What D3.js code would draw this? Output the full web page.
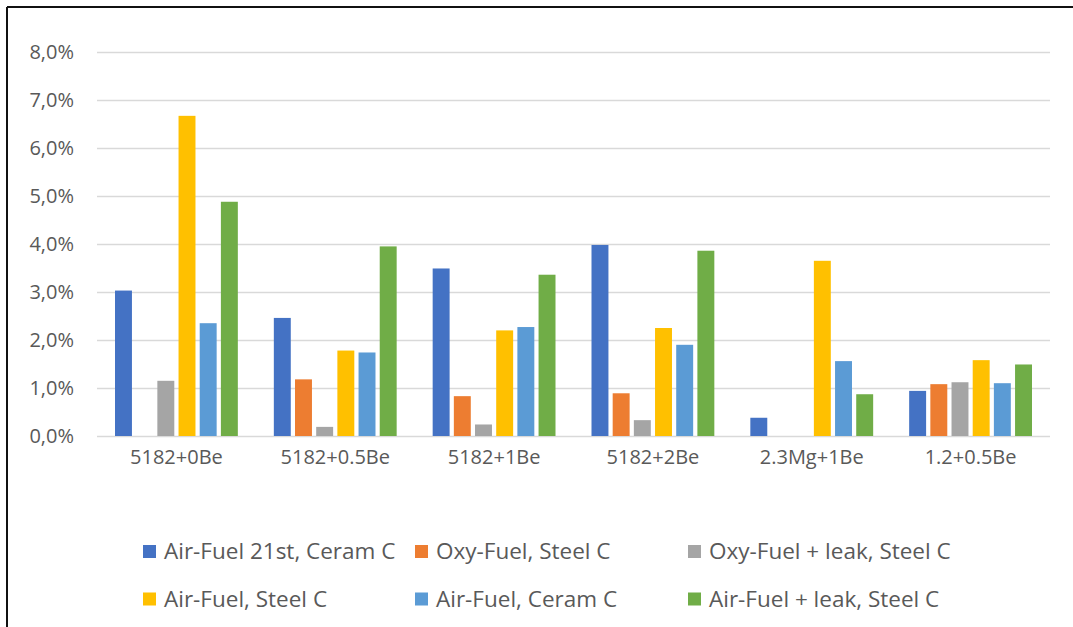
<!DOCTYPE html>
<html>
<head>
<meta charset="utf-8">
<script src="https://cdn.jsdelivr.net/npm/d3@7/dist/d3.min.js"></script>
<style>
  html, body { margin: 0; padding: 0; background: #fff; }
  svg { display: block; }
  text { font-family: "Open Sans", sans-serif; fill: #595959; }
</style>
</head>
<body>
<svg id="chart" width="1073" height="627"></svg>
<script>
const categories = ["5182+0Be", "5182+0.5Be", "5182+1Be", "5182+2Be", "2.3Mg+1Be", "1.2+0.5Be"];
const seriesNames = ["Air-Fuel 21st, Ceram C", "Oxy-Fuel, Steel C", "Oxy-Fuel + leak, Steel C", "Air-Fuel, Steel C", "Air-Fuel, Ceram C", "Air-Fuel + leak, Steel C"];
const seriesColors = ["#4472C4", "#ED7D31", "#A5A5A5", "#FFC000", "#5B9BD5", "#70AD47"];
// values in percent, one array per series (null = no bar)
const airFuel21stCeram = [3.03, 2.46, 3.49, 3.98, 0.38, 0.94];
const oxyFuelSteel     = [null, 1.18, 0.83, 0.89, null, 1.08];
const oxyFuelLeakSteel = [1.15, 0.19, 0.24, 0.33, null, 1.12];
const airFuelSteel     = [6.67, 1.78, 2.20, 2.25, 3.65, 1.58];
const airFuelCeram     = [2.35, 1.74, 2.27, 1.90, 1.56, 1.10];
const airFuelLeakSteel = [4.88, 3.95, 3.36, 3.86, 0.87, 1.49];
const yTicks = [0, 1, 2, 3, 4, 5, 6, 7, 8];
const yTickLabels = ["0,0%", "1,0%", "2,0%", "3,0%", "4,0%", "5,0%", "6,0%", "7,0%", "8,0%"];

const seriesValues = [airFuel21stCeram, oxyFuelSteel, oxyFuelLeakSteel, airFuelSteel, airFuelCeram, airFuelLeakSteel];

const svg = d3.select("#chart");

// frame (top and left lines)
svg.append("line").attr("x1", 7).attr("x2", 1073).attr("y1", 7).attr("y2", 7)
  .attr("stroke", "#111").attr("stroke-width", 2);
svg.append("line").attr("x1", 7).attr("x2", 7).attr("y1", 7).attr("y2", 627)
  .attr("stroke", "#111").attr("stroke-width", 2);

const plotLeft = 97, plotRight = 1050, plotTop = 52, plotBottom = 436;

const y = d3.scaleLinear().domain([0, 8]).range([plotBottom, plotTop]);
const x0 = d3.scaleBand().domain(categories).range([plotLeft, plotRight]).padding(0);
const groupPad = 18;
const x1 = d3.scaleBand().domain(d3.range(seriesNames.length))
  .range([groupPad, x0.bandwidth() - groupPad]).paddingInner(0.2).paddingOuter(0);

// gridlines
const yAxis = d3.axisLeft(y).tickValues(yTicks)
  .tickSize(-(plotRight - plotLeft))
  .tickFormat((d, i) => yTickLabels[i]);
const gy = svg.append("g").attr("transform", `translate(${plotLeft},0)`).call(yAxis);
gy.select(".domain").remove();
gy.selectAll(".tick line").attr("stroke", "#D9D9D9").attr("stroke-width", 1.5);
gy.selectAll(".tick text").attr("x", -23).attr("font-size", 20).attr("fill", "#595959")
  .style("font-family", '"Open Sans", sans-serif');

// bars
const groups = svg.append("g").selectAll("g").data(categories).join("g")
  .attr("transform", d => `translate(${x0(d)},0)`);
groups.selectAll("rect")
  .data((c, ci) => seriesValues.map((vals, si) => ({ si, v: vals[ci] })).filter(d => d.v != null))
  .join("rect")
  .attr("x", d => x1(d.si))
  .attr("width", x1.bandwidth())
  .attr("y", d => y(d.v))
  .attr("height", d => y(0) - y(d.v))
  .attr("fill", d => seriesColors[d.si]);

// x axis labels
const xAxis = d3.axisBottom(x0).tickSize(0).tickPadding(0);
const gx = svg.append("g").attr("transform", `translate(0,${plotBottom})`).call(xAxis);
gx.select(".domain").remove();
gx.selectAll(".tick text").attr("y", 21).attr("dy", "0.35em").attr("font-size", 20)
  .attr("fill", "#595959").style("font-family", '"Open Sans", sans-serif');

// legend
const legendCols = [143, 415, 688];
const legendRows = [551.5, 599];
const legend = svg.append("g");
seriesNames.forEach((name, i) => {
  const cx = legendCols[i % 3], cy = legendRows[Math.floor(i / 3)];
  legend.append("rect").attr("x", cx).attr("y", cy - 6.5).attr("width", 13).attr("height", 13)
    .attr("fill", seriesColors[i]);
  legend.append("text").attr("x", cx + 21).attr("y", cy).attr("dy", "0.35em")
    .attr("font-size", 22.5).text(name);
});
</script>
</body>
</html>
